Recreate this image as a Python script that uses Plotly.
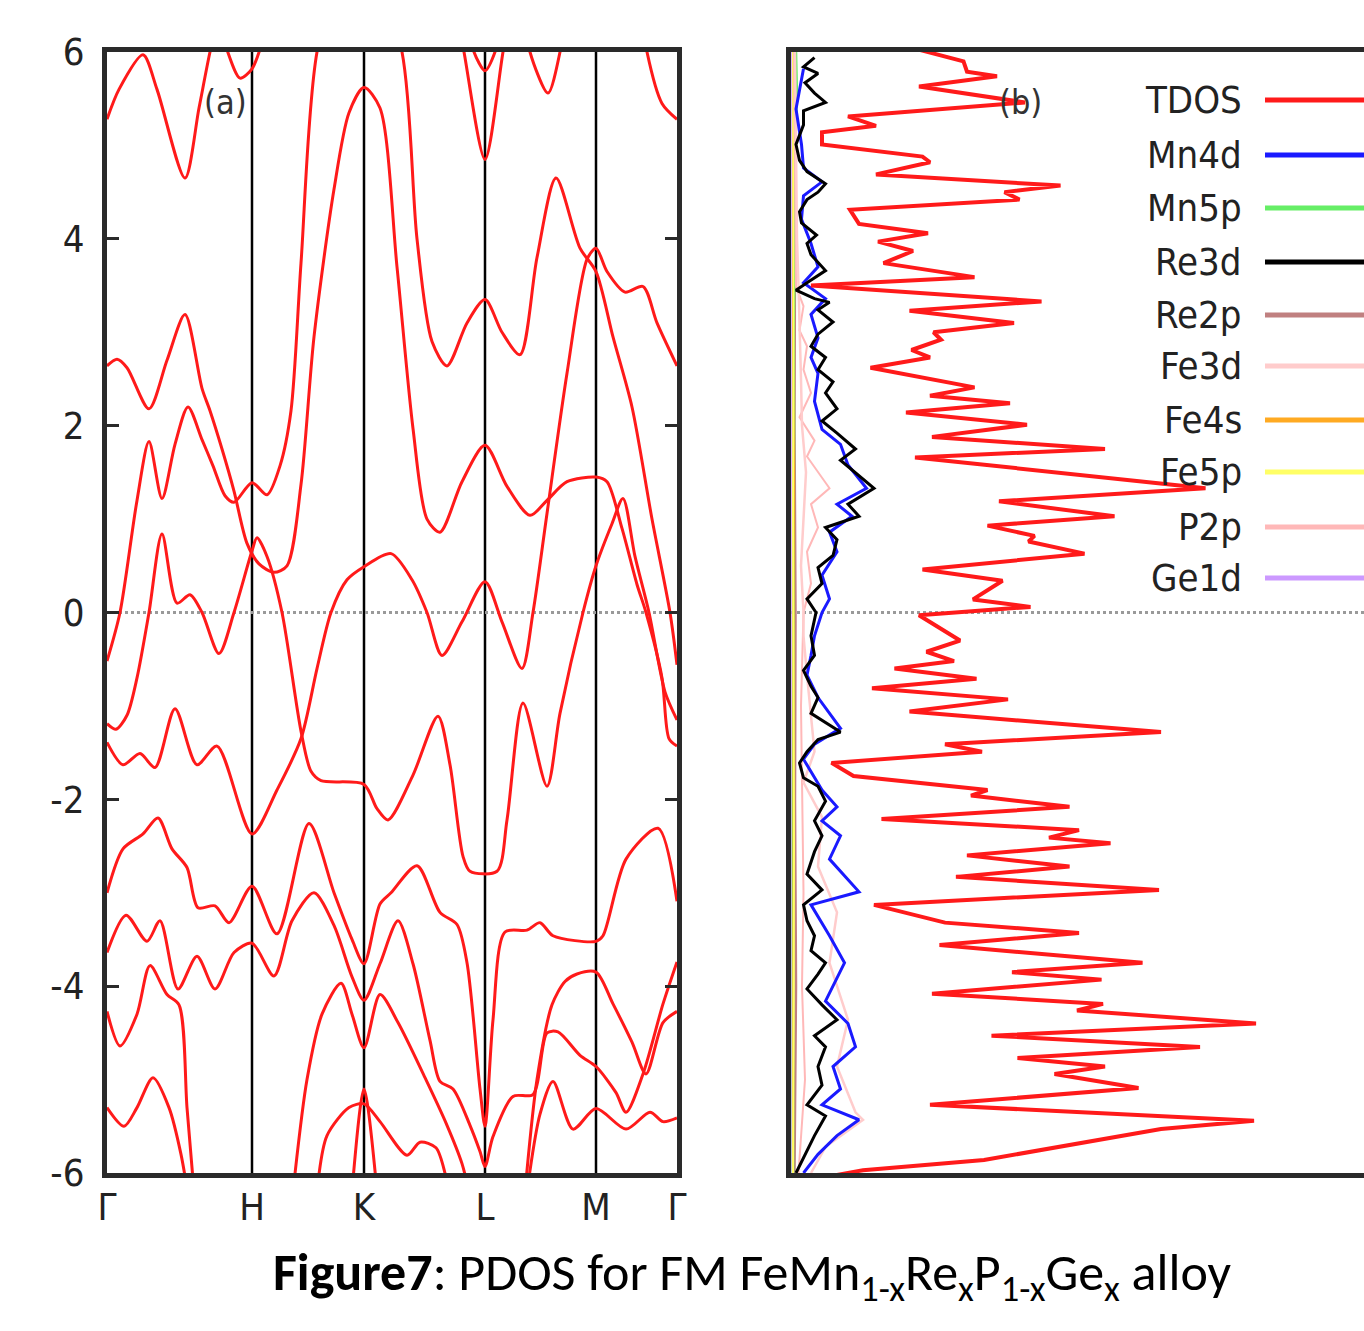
import plotly.graph_objects as go

# ---------------- band structure data ----------------
k_nodes = [0.0, 1.45, 2.57, 3.78, 4.89, 5.70]
k_labels = ["Γ", "H", "K", "L", "M", "Γ"]

band_a_k = [0, 0.12, 0.36, 0.5, 0.78, 0.92, 1.03, 1.1, 1.19, 1.33, 1.45, 1.55]
band_a_e = [5.28, 5.6, 5.97, 5.6, 4.65, 5.4, 6.0, 6.3, 6.05, 5.72, 5.82, 6.1]

band_b_k = [0, 0.13, 0.3, 0.42, 0.55, 0.68, 0.81, 0.95, 1.06, 1.18, 1.27, 1.45, 1.60, 1.73, 1.84, 1.94, 2.10, 2.5,
            2.95, 3.1, 3.25, 3.4, 3.6, 3.78, 3.95, 4.13, 4.3, 4.49, 4.73, 4.89, 5.06, 5.25, 5.45, 5.63, 5.70]
band_b_e = [-0.52, 0, 1.2, 1.83, 1.22, 1.8, 2.2, 1.85, 1.57, 1.25, 1.18, 1.39, 1.26, 1.57, 2.16, 3.74, 6.0, 7.5,
            6.0, 4.0, 2.9, 2.64, 3.1, 3.35, 3.0, 2.76, 3.8, 4.65, 3.9, 3.65, 2.95, 2.2, 1.0, 0, -0.56]

band_c_k = [0, 0.1, 0.2, 0.42, 0.6, 0.78, 0.95, 1.03, 1.15, 1.27, 1.40, 1.52, 1.67, 1.80, 1.94, 2.07, 2.27, 2.42,
            2.57, 2.73, 2.9, 3.06, 3.2, 3.33, 3.55, 3.78, 4.0, 4.23, 4.4, 4.6, 4.89, 5.0, 5.15, 5.3, 5.39, 5.55,
            5.62, 5.70]
band_c_e = [2.64, 2.71, 2.62, 2.18, 2.7, 3.19, 2.4, 2.16, 1.75, 1.3, 0.74, 0.52, 0.43, 0.5, 1.37, 2.95, 4.53, 5.35,
            5.62, 5.4, 3.7, 1.97, 1.0, 0.86, 1.4, 1.79, 1.35, 1.04, 1.2, 1.4, 1.45, 1.4, 0.9, 0.3, 0, -0.7,
            -1.35, -1.43]

band_d_k = [0, 0.16, 0.33, 0.48, 0.68, 0.90, 1.10, 1.45, 1.70, 1.94, 2.1, 2.24, 2.4, 2.57, 2.84, 3.05, 3.2, 3.35,
            3.55, 3.78, 3.95, 4.15, 4.26, 4.4, 4.6, 4.8, 4.89, 5.0, 5.18, 5.36, 5.5, 5.70]
band_d_e = [-1.39, -1.63, -1.51, -1.66, -1.03, -1.63, -1.43, -2.37, -1.9, -1.35, -0.6, 0, 0.35, 0.49, 0.63, 0.35,
            0, -0.46, -0.1, 0.33, -0.1, -0.6, 0, 1.06, 2.56, 3.78, 3.9, 3.65, 3.43, 3.49, 3.1, 2.64]

band_h_k = [0, 0.09, 0.2, 0.3, 0.42, 0.55, 0.70, 0.83, 0.95, 1.12, 1.27, 1.45, 1.50, 1.6, 1.75, 1.94, 2.04, 2.14,
            2.57, 2.7, 2.81, 3.06, 3.31, 3.43, 3.56, 3.63, 3.90, 4.0, 4.16, 4.40, 4.53, 4.76, 4.89, 5.05, 5.16,
            5.28, 5.42, 5.58, 5.70]
band_h_e = [-1.19, -1.25, -1.1, -0.7, 0, 0.84, 0.1, 0.19, 0, -0.44, 0, 0.66, 0.80, 0.6, 0, -1.27, -1.70, -1.80,
            -1.84, -2.1, -2.22, -1.74, -1.11, -1.63, -2.61, -2.77, -2.77, -2.22, -0.97, -1.86, -1.08, 0, 0.5,
            0.95, 1.22, 0.6, 0, -0.85, -1.15]

band_l1_k = [0, 0.16, 0.36, 0.51, 0.65, 0.80, 0.91, 1.08, 1.22, 1.45, 1.70, 2.02, 2.27, 2.45, 2.57, 2.73, 2.84,
             3.10, 3.33, 3.50, 3.60, 3.73, 3.78, 3.86, 3.98, 4.20, 4.33, 4.46, 4.89, 4.96, 5.19, 5.51, 5.70]
band_l1_e = [-3.0, -2.53, -2.37, -2.2, -2.53, -2.73, -3.16, -3.14, -3.32, -2.93, -3.44, -2.26, -3.0, -3.5, -3.76,
             -3.12, -3.0, -2.71, -3.21, -3.34, -3.75, -5.1, -5.5, -4.36, -3.42, -3.40, -3.32, -3.46, -3.52, -3.46,
             -2.64, -2.31, -3.09]

band_l2_k = [0, 0.19, 0.40, 0.53, 0.71, 0.90, 1.08, 1.27, 1.45, 1.67, 1.85, 2.07, 2.27, 2.45, 2.57, 2.73, 2.91,
             3.06, 3.23, 3.33, 3.46, 3.63, 3.73, 3.78, 3.86, 4.06, 4.26, 4.40, 4.51, 4.73, 4.89, 5.09, 5.19, 5.36,
             5.56, 5.70]
band_l2_e = [-3.64, -3.24, -3.52, -3.30, -4.03, -3.68, -4.03, -3.64, -3.54, -3.89, -3.3, -3.0, -3.35, -3.9, -4.15,
             -3.76, -3.30, -3.76, -4.58, -5.02, -5.10, -5.49, -5.77, -5.93, -5.61, -5.18, -5.16, -4.5, -4.49,
             -4.74, -4.86, -5.14, -5.35, -4.94, -4.19, -3.74]

band_l3_k = [0, 0.13, 0.3, 0.43, 0.60, 0.72, 0.80, 0.87]
band_l3_e = [-4.27, -4.64, -4.3, -3.78, -4.09, -4.2, -5.3, -6.2]

band_l3b_k = [1.86, 2.0, 2.15, 2.34, 2.45, 2.57, 2.73, 2.91, 3.18, 3.40, 3.55, 3.62]
band_l3b_e = [-6.2, -5.0, -4.3, -3.97, -4.3, -4.66, -4.09, -4.39, -4.98, -5.49, -5.9, -6.2]

band_l4_k = [0, 0.17, 0.3, 0.46, 0.62, 0.74, 0.82]
band_l4_e = [-5.3, -5.5, -5.3, -4.98, -5.3, -5.8, -6.3]

band_l4b_k = [2.11, 2.2, 2.42, 2.57, 2.73, 3.0, 3.13, 3.29, 3.39, 3.45]
band_l4b_e = [-6.1, -5.6, -5.3, -5.26, -5.45, -5.81, -5.67, -5.73, -6.04, -6.3]

band_l6_k = [2.45, 2.57, 2.70]
band_l6_e = [-6.2, -5.1, -6.2]

band_l5_k = [4.18, 4.3, 4.45, 4.58, 4.70, 4.89, 5.06, 5.25, 5.39, 5.56, 5.70]
band_l5_e = [-6.2, -5.0, -4.2, -3.95, -3.87, -3.85, -4.19, -4.6, -4.94, -4.39, -4.27]

band_l7_k = [4.20, 4.33, 4.46, 4.66, 4.89, 5.19, 5.43, 5.56, 5.70]
band_l7_e = [-6.2, -5.37, -5.02, -5.53, -5.31, -5.53, -5.35, -5.45, -5.41]

band_t1_k = [3.5, 3.57, 3.78, 3.96, 4.03]
band_t1_e = [6.4, 6.0, 4.85, 6.0, 6.4]
band_t2_k = [3.64, 3.67, 3.78, 3.88, 3.92]
band_t2_e = [6.2, 6.0, 5.8, 6.0, 6.2]
band_t3_k = [4.19, 4.23, 4.41, 4.53, 4.57]
band_t3_e = [6.3, 6.0, 5.56, 6.0, 6.3]
band_t4_k = [5.36, 5.40, 5.55, 5.70]
band_t4_e = [6.3, 6.0, 5.45, 5.28]

bands = [
    (band_a_k, band_a_e), (band_b_k, band_b_e), (band_c_k, band_c_e), (band_d_k, band_d_e),
    (band_h_k, band_h_e), (band_l1_k, band_l1_e), (band_l2_k, band_l2_e), (band_l3_k, band_l3_e),
    (band_l3b_k, band_l3b_e), (band_l4_k, band_l4_e), (band_l4b_k, band_l4b_e), (band_l6_k, band_l6_e),
    (band_l5_k, band_l5_e), (band_l7_k, band_l7_e), (band_t1_k, band_t1_e), (band_t2_k, band_t2_e),
    (band_t3_k, band_t3_e), (band_t4_k, band_t4_e),
]

# ---------------- DOS data ----------------
tdos_e = [6.02, 5.90, 5.79, 5.74, 5.63, 5.46, 5.31, 5.21, 5.14, 5.01, 4.88, 4.82, 4.69, 4.57, 4.50, 4.42, 4.31,
          4.16, 4.06, 3.97, 3.87, 3.74, 3.59, 3.50, 3.33, 3.23, 3.10, 3.00, 2.92, 2.81, 2.73, 2.62, 2.41, 2.32,
          2.24, 2.14, 2.01, 1.88, 1.75, 1.66, 1.33, 1.19, 1.03, 0.93, 0.82, 0.76, 0.63, 0.46, 0.34, 0.14, 0.06,
          -0.03, -0.30, -0.42, -0.52, -0.60, -0.71, -0.81, -0.93, -1.06, -1.28, -1.41, -1.49, -1.61, -1.75,
          -1.90, -1.96, -2.08, -2.21, -2.33, -2.41, -2.47, -2.60, -2.72, -2.83, -2.97, -3.13, -3.32, -3.43,
          -3.56, -3.75, -3.85, -3.93, -4.08, -4.19, -4.26, -4.40, -4.53, -4.65, -4.77, -4.86, -4.94, -5.09,
          -5.27, -5.44, -5.53, -5.86, -5.97, -6.02]
tdos_v = [2.59, 3.45, 3.52, 4.12, 2.56, 4.68, 1.14, 1.70, 0.62, 0.62, 2.63, 2.78, 1.70, 5.39, 4.27, 4.57, 1.18,
          1.36, 2.74, 1.74, 2.44, 1.85, 3.67, 0.40, 5.01, 2.37, 4.46, 2.85, 3.00, 2.41, 2.78, 1.59, 3.67, 2.78,
          4.38, 2.30, 4.72, 2.82, 6.28, 2.48, 8.29, 4.16, 6.47, 3.93, 4.87, 4.75, 5.87, 2.63, 4.23, 3.64, 4.79,
          2.56, 3.38, 2.71, 3.26, 2.07, 3.71, 1.62, 4.34, 2.37, 7.40, 3.08, 3.82, 0.81, 1.25,
          3.93, 3.60, 5.57, 1.81, 5.76, 5.16, 6.39, 3.52, 5.57, 3.30, 7.36, 1.66, 3.08, 5.76,
          2.97, 7.03, 4.42, 6.21, 2.82, 6.24, 5.72, 9.30, 4.01, 8.18, 4.53, 6.28, 5.27, 6.95,
          2.78, 9.26, 7.40, 3.86, 1.44, 0.92]

re3d_e = [5.94, 5.84, 5.77, 5.67, 5.56, 5.46, 5.37, 5.22, 5.01, 4.84, 4.72, 4.59, 4.50, 4.42, 4.29, 4.17, 4.04,
          3.95, 3.83, 3.66, 3.53, 3.45, 3.36, 3.32, 3.24, 3.11, 2.98, 2.85, 2.73, 2.60, 2.47, 2.35, 2.18, 2.05,
          1.92, 1.75, 1.63, 1.33, 1.16, 1.03, 0.91, 0.78, 0.61, 0.48, 0.31, 0.145, 0.0,
          -0.25, -0.46, -0.62, -0.79, -0.91, -1.08, -1.28, -1.36, -1.49, -1.61, -1.77, -1.86, -2.02, -2.23,
          -2.39, -2.56, -2.80, -2.97, -3.13, -3.30, -3.46, -3.62, -3.75, -3.87, -4.03, -4.20, -4.36, -4.53,
          -4.65, -4.86, -5.06, -5.27, -5.39, -5.60, -5.84, -6.0]
re3d_v = [0.47, 0.25, 0.54, 0.28, 0.47, 0.69, 0.25, 0.25, 0.10, 0.17, 0.32, 0.69, 0.54, 0.32, 0.17, 0.21, 0.51,
          0.32, 0.40, 0.69, 0.32, 0.10, 0.47, 0.77, 0.54, 0.84, 0.54, 0.40, 0.69, 0.54, 0.84, 0.69, 0.92, 0.62,
          0.92, 1.29, 0.99, 1.66, 1.14, 1.36, 0.69, 0.92, 0.84, 0.54, 0.62, 0.32, 0.50,
          0.40, 0.47, 0.25, 0.40, 0.54, 0.40, 0.99, 0.54, 0.32, 0.17, 0.25, 0.54, 0.69, 0.47,
          0.62, 0.47, 0.32, 0.62, 0.25, 0.32, 0.47, 0.40, 0.69, 0.54, 0.32, 0.62, 0.92, 0.47,
          0.69, 0.54, 0.62, 0.32, 0.69, 0.47, 0.25, 0.10]

mn4d_e = [5.82, 5.39, 5.01, 4.76, 4.61, 4.46, 4.21, 3.95, 3.70, 3.53, 3.36, 3.19, 2.94, 2.73, 2.56, 2.26, 1.96,
          1.80, 1.58, 1.33, 1.16, 1.03, 0.86, 0.65, 0.40, 0.145, 0.0,
          -0.25, -0.46, -0.67, -0.91, -1.24, -1.41, -1.57, -1.90, -2.08, -2.23, -2.39, -2.64, -2.99, -3.13,
          -3.46, -3.75, -3.91, -4.16, -4.40, -4.65, -4.86, -5.10, -5.27, -5.43, -5.60, -5.80, -6.0]
mn4d_v = [0.25, 0.10, 0.21, 0.25, 0.62, 0.25, 0.21, 0.40, 0.54, 0.25, 0.69, 0.40, 0.54, 0.40, 0.54, 0.47, 0.62,
          0.99, 1.14, 1.51, 0.92, 1.22, 0.77, 0.92, 0.62, 0.77, 0.62,
          0.47, 0.40, 0.32, 0.54, 0.99, 0.47, 0.25, 0.62, 0.92, 0.62, 0.99, 0.77, 1.36, 0.40,
          0.77, 1.07, 0.92, 0.69, 1.14, 1.29, 0.84, 0.99, 0.62, 1.36, 0.92, 0.54, 0.25]

fe3d_e = [6.0, 5.0, 4.0, 3.5, 3.0, 2.5, 2.0, 1.5, 1.0, 0.5, 0.0, -0.25, -0.67, -1.08, -1.49, -1.82, -2.19,
          -2.72, -3.21, -3.75, -4.36, -4.86, -5.35, -5.43, -5.72, -6.0]
fe3d_v = [0.08, 0.10, 0.12, 0.15, 0.18, 0.20, 0.22, 0.30, 0.25, 0.20, 0.25, 0.25, 0.32, 0.40, 0.47, 0.25, 0.62,
          0.54, 0.92, 0.77, 1.14, 0.92, 1.29, 1.44, 0.69, 0.40]

p2p_e = [6.0, 5.0, 4.0, 3.49, 3.28, 3.02, 2.85, 2.60, 2.35, 2.09, 1.84, 1.67, 1.33, 1.16, 0.91, 0.65, 0.31, 0.0,
         -1.0, -2.0, -3.0, -4.0, -5.0, -6.0]
p2p_v = [0.06, 0.07, 0.08, 0.10, 0.25, 0.17, 0.32, 0.25, 0.40, 0.17, 0.47, 0.32, 0.77, 0.40, 0.54, 0.32, 0.40, 0.25,
         0.20, 0.22, 0.25, 0.22, 0.28, 0.15]

mn5p_e = [6.0, 5.5, 5.0, 4.5, 4.0, 3.0, 2.0, 1.0, 0.0, -2.0, -4.0, -6.0]
mn5p_v = [0.10, 0.12, 0.07, 0.06, 0.08, 0.05, 0.06, 0.05, 0.05, 0.04, 0.04, 0.04]

re2p_e = [6.0, 4.0, 2.0, 0.0, -2.0, -4.0, -6.0]
re2p_v = [0.06, 0.08, 0.07, 0.09, 0.08, 0.10, 0.07]

fe4s_e = [6.0, 3.0, 1.5, 0.0, -3.0, -6.0]
fe4s_v = [0.05, 0.04, 0.06, 0.05, 0.05, 0.04]

fe5p_e = [6.0, 3.0, 1.0, 0.0, -2.5, -4.5, -6.0]
fe5p_v = [0.04, 0.05, 0.04, 0.05, 0.06, 0.05, 0.04]

ge1d_e = [6.0, 3.0, 0.0, -3.0, -6.0]
ge1d_v = [0.03, 0.03, 0.03, 0.03, 0.03]

legend_names = ["TDOS", "Mn4d", "Mn5p", "Re3d", "Re2p", "Fe3d", "Fe4s", "Fe5p", "P2p", "Ge1d"]
legend_colors = ["#ff1a1a", "#1a1aff", "#66ee66", "#000000", "#c08080", "#ffcccc", "#ffaa22", "#ffff66",
                 "#ffb8b8", "#cc99ff"]

y_ticks = [-6, -4, -2, 0, 2, 4, 6]
y_tick_text = ["-6", "-4", "-2", "0", "2", "4", "6"]

# ---------------- figure ----------------
W, H = 1364, 1331
fig = go.Figure()

for bk, be in bands:
    fig.add_trace(go.Scatter(x=bk, y=be, mode="lines", xaxis="x", yaxis="y",
                             line=dict(color="#ff1a1a", width=3, shape="spline", smoothing=0.8),
                             showlegend=False, hoverinfo="skip"))

pdos = [
    (ge1d_v, ge1d_e, legend_colors[9], 2.5),
    (re2p_v, re2p_e, legend_colors[4], 2.5),
    (mn5p_v, mn5p_e, legend_colors[2], 2.5),
    (fe4s_v, fe4s_e, legend_colors[6], 2),
    (fe5p_v, fe5p_e, legend_colors[7], 2),
    (p2p_v, p2p_e, legend_colors[8], 2),
    (fe3d_v, fe3d_e, legend_colors[5], 2.5),
    (mn4d_v, mn4d_e, legend_colors[1], 3),
    (re3d_v, re3d_e, legend_colors[3], 3),
    (tdos_v, tdos_e, legend_colors[0], 4),
]
for v, e, c, w in pdos:
    fig.add_trace(go.Scatter(x=v, y=e, mode="lines", xaxis="x2", yaxis="y2",
                             line=dict(color=c, width=w), showlegend=False, hoverinfo="skip"))

ydom = [(H - 1173) / H, (H - 52) / H]
axis_font = dict(family="DejaVu Sans Condensed, Liberation Sans Narrow, DejaVu Sans", size=38, color="#222")

fig.update_layout(
    width=W, height=H, margin=dict(l=0, r=0, t=0, b=0, autoexpand=False),
    paper_bgcolor="white", plot_bgcolor="white", showlegend=False,
    xaxis=dict(domain=[107 / W, 677 / W], range=[k_nodes[0], k_nodes[-1]], showgrid=False, zeroline=False,
               showline=True, linewidth=5, linecolor="#2a2a2a", mirror=True, automargin=False,
               tickvals=k_nodes, ticktext=k_labels, ticks="", tickfont=axis_font, ticklabelstandoff=-4),
    yaxis=dict(domain=ydom, range=[-6, 6], showgrid=False, zeroline=False, showline=True, linewidth=5,
               linecolor="#2a2a2a", mirror="ticks", ticks="inside", ticklen=12, tickwidth=3, tickcolor="#2a2a2a",
               tickvals=y_ticks, ticktext=y_tick_text, tickfont=axis_font, ticklabelstandoff=10,
               automargin=False),
    xaxis2=dict(domain=[791 / W, 1.0], range=[0, 11.46], anchor="y2", showgrid=False, zeroline=False,
                showline=True, linewidth=5, linecolor="#2a2a2a", mirror=True, showticklabels=False, ticks="",
                automargin=False),
    yaxis2=dict(domain=ydom, range=[-6, 6], anchor="x2", showgrid=False, zeroline=False, showline=True,
                linewidth=5, linecolor="#2a2a2a", mirror=False, showticklabels=False, ticks="",
                automargin=False),
)

shapes = []
for kx in k_nodes[1:-1]:
    shapes.append(dict(type="line", xref="x", yref="y domain", x0=kx, x1=kx, y0=0, y1=1,
                       line=dict(color="black", width=2.5), layer="below"))
for xr in ["x domain", "x2 domain"]:
    shapes.append(dict(type="line", xref=xr, yref="y" if xr == "x domain" else "y2", x0=0, x1=1, y0=0, y1=0,
                       line=dict(color="#9a9a9a", width=3, dash="dot"), layer="below"))

legend_y = [100, 155, 208, 262, 315, 366, 420, 472, 527, 578]
annotations = []
for name, col, yp in zip(legend_names, legend_colors, legend_y):
    yy = (H - yp) / H
    shapes.append(dict(type="line", xref="paper", yref="paper", x0=1265 / W, x1=1.0, y0=yy, y1=yy,
                       line=dict(color=col, width=5)))
    annotations.append(dict(text=name, x=1244 / W, y=yy, xref="paper", yref="paper", xanchor="right",
                            yanchor="middle", showarrow=False, font=axis_font))

annotations.append(dict(text="(a)", x=225 / W, y=(H - 102) / H, xref="paper", yref="paper", showarrow=False,
                        xanchor="center", yanchor="middle",
                        font=dict(family=axis_font["family"], size=34, color="#333")))
annotations.append(dict(text="(b)", x=1020 / W, y=(H - 102) / H, xref="paper", yref="paper", showarrow=False,
                        xanchor="center", yanchor="middle",
                        font=dict(family=axis_font["family"], size=34, color="#333")))
annotations.append(dict(
    text="<b>Figure7</b>: PDOS for FM FeMn<sub>1-x</sub>Re<sub>x</sub>P<sub>1-x</sub>Ge<sub>x</sub> alloy",
    x=753 / W, y=(H - 1275) / H, xref="paper", yref="paper", showarrow=False,
    xanchor="center", yanchor="middle",
    font=dict(family="Carlito, Lato, Open Sans, sans-serif", size=52, color="black")))

fig.update_layout(shapes=shapes, annotations=annotations)
fig.write_html("out.html", config={"displayModeBar": False},
               post_script="document.body.style.margin='0px';")
